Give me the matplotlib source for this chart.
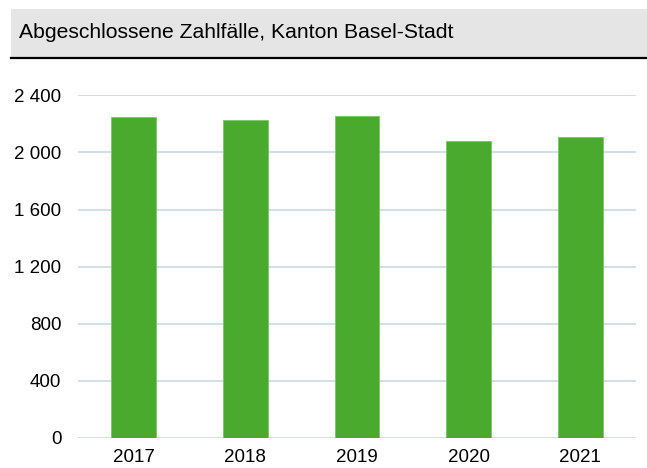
import matplotlib
matplotlib.use('Agg')
from matplotlib import pyplot as plt
from matplotlib.patches import Rectangle
from matplotlib.lines import Line2D

years = ['2017', '2018', '2019', '2020', '2021']
cases = [2246, 2225, 2255, 2080, 2110]
yTicks = [0, 400, 800, 1200, 1600, 2000, 2400]
yLabels = ['0', '400', '800', '1 200', '1 600', '2 000', '2 400']
title = 'Abgeschlossene Zahlfälle, Kanton Basel-Stadt'

plt.rcParams['font.family'] = ['Liberation Sans', 'DejaVu Sans']

W, H = 647, 468
fig = plt.figure(figsize=(W / 100, H / 100), dpi=100)

# grey title band with black rule below
fig.patches.append(Rectangle((11 / W, 1 - 57 / H), 1 - 11 / W, 48 / H,
                             transform=fig.transFigure, facecolor='#e5e5e5',
                             edgecolor='none', zorder=0))
fig.lines.append(Line2D([11 / W, 1], [1 - 58 / H, 1 - 58 / H],
                        transform=fig.transFigure, color='black', linewidth=1.6))
fig.text(19 / W, 1 - 33 / H, title, fontsize=15.2, va='center', ha='left')

ax = fig.add_axes([78 / W, 1 - 438 / H, (636 - 78) / W, (438 - 95.3) / H])
x = list(range(len(years)))
ax.bar(x, cases, width=0.4, color='#49aa2d', edgecolor='#7cc46a',
       linewidth=0.6, zorder=3)
ax.set_xlim(-0.5, len(years) - 0.5)
ax.set_ylim(0, 2400)
ax.set_yticks(yTicks)
ax.set_yticklabels(yLabels)
ax.set_xticks(x)
ax.set_xticklabels(years)
ax.tick_params(axis='both', length=0, labelsize=13.5)
ax.tick_params(axis='y', pad=12)
ax.tick_params(axis='x', pad=8)
ax.yaxis.grid(True, color='#c9dae2', linewidth=1.2, zorder=0)
ax.set_axisbelow(True)
for s in ax.spines.values():
    s.set_visible(False)

fig.savefig('out.png', dpi=100)
